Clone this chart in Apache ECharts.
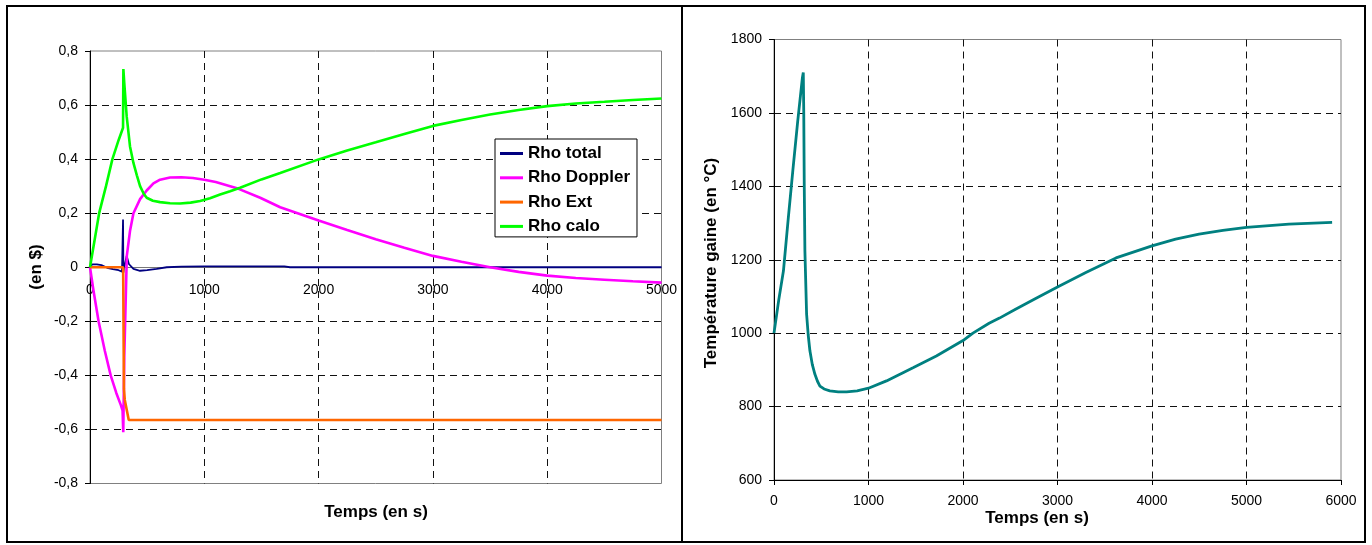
<!DOCTYPE html>
<html><head><meta charset="utf-8">
<script src="https://cdn.jsdelivr.net/npm/echarts@6/dist/echarts.min.js"></script>
<style>html,body{margin:0;padding:0;background:#fff}#c{width:1372px;height:545px}</style>
</head><body><div id="c"></div>
<script>
// ---- Left chart: reactivity (en $) vs time (s)
const seriesNames = ['Rho total', 'Rho Doppler', 'Rho Ext', 'Rho calo'];

const rhoTotalT = [0, 20, 60, 100, 150, 200, 250, 280, 289, 292, 296, 305, 321, 340, 380, 438, 500, 583, 671, 800, 1000, 1700, 1750, 5000];
const rhoTotalV = [0, 0.011, 0.011, 0.008, -0.002, -0.007, -0.011, -0.016, 0.177, -0.02, -0.005, 0.01, 0.042, 0.012, -0.006, -0.013, -0.011, -0.006, 0.0, 0.002, 0.003, 0.003, 0.0, 0.0];

const rhoDopplerT = [0, 30, 75, 130, 181, 230, 270, 285, 291, 300, 322, 350, 380, 438, 496, 555, 613, 700, 800, 900, 1000, 1100, 1226, 1300, 1489, 1664, 2000, 2250, 2500, 2750, 3000, 3250, 3500, 3750, 4000, 4250, 4500, 4750, 5000];
const rhoDopplerV = [0, -0.085, -0.2, -0.31, -0.4, -0.465, -0.51, -0.53, -0.61, -0.33, 0.042, 0.134, 0.2, 0.252, 0.284, 0.31, 0.324, 0.332, 0.333, 0.33, 0.324, 0.315, 0.3, 0.29, 0.257, 0.222, 0.173, 0.138, 0.104, 0.072, 0.042, 0.02, 0.0, -0.017, -0.031, -0.04, -0.046, -0.052, -0.057];

const rhoExtT = [0, 290, 297, 304, 339, 5000];
const rhoExtV = [0, 0, -0.45, -0.49, -0.565, -0.565];

const rhoCaloT = [0, 40, 80, 140, 196, 250, 289, 292, 300, 321, 350, 380, 410, 438, 470, 496, 550, 613, 700, 788, 880, 963, 1050, 1138, 1226, 1313, 1500, 1664, 2000, 2250, 2500, 2750, 3000, 3250, 3500, 3750, 4000, 4250, 4500, 4750, 5000];
const rhoCaloV = [0, 0.1, 0.2, 0.3, 0.4, 0.47, 0.516, 0.733, 0.68, 0.558, 0.447, 0.386, 0.34, 0.3, 0.272, 0.257, 0.246, 0.241, 0.237, 0.236, 0.239, 0.245, 0.255, 0.269, 0.281, 0.294, 0.325, 0.349, 0.399, 0.432, 0.462, 0.493, 0.523, 0.545, 0.565, 0.582, 0.596, 0.606, 0.612, 0.619, 0.624];

const leftYTicks = [-0.8, -0.6, -0.4, -0.2, 0, 0.2, 0.4, 0.6, 0.8];
const leftXTicks = [0, 1000, 2000, 3000, 4000, 5000];

// ---- Right chart: cladding temperature (°C) vs time (s)
const tempT = [0, 50, 100, 150, 200, 250, 300, 310, 315, 320, 327, 345, 362, 380, 405, 433, 460, 486, 530, 591, 680, 768, 880, 1000, 1190, 1471, 1718, 2000, 2105, 2276, 2386, 2556, 2774, 3000, 3300, 3619, 4000, 4250, 4498, 4750, 5000, 5449, 5906];
const tempV = [1000, 1090, 1170, 1310, 1445, 1575, 1695, 1710, 1600, 1406, 1224, 1052, 995, 952, 915, 888, 869, 856, 848, 843, 840, 840, 843, 850, 870, 906, 938, 980, 1000, 1027, 1041, 1065, 1095, 1126, 1165, 1205, 1238, 1256, 1270, 1280, 1288, 1297, 1302];

const rightYTicks = [600, 800, 1000, 1200, 1400, 1600, 1800];
const rightXTicks = [0, 1000, 2000, 3000, 4000, 5000, 6000];

const colors = { total: '#000080', doppler: '#ff00ff', ext: '#ff6600', calo: '#00ff00', temp: '#008080' };
const FONT = "'Liberation Sans', Arial, sans-serif";

function pairs(t, v) { return t.map((x, i) => [x, v[i]]); }
function step(a) { return a[1] - a[0]; }
const plain = v => String(Math.round(v));

// layout of the left plot area (px)
const L = { left: 90, top: 51, width: 571.5, height: 432.5 };
const yMinL = leftYTicks[0], yMaxL = leftYTicks[leftYTicks.length - 1];
// x axis crosses the y axis at value 0: shift it up from the bottom edge
const xAxisShiftL = -L.height * (0 - yMinL) / (yMaxL - yMinL);

const splitStyle = { show: true, showMinLine: false, showMaxLine: false, lineStyle: { color: '#111', width: 1, type: [7, 5] } };
const labelBase = { color: '#000', fontFamily: FONT, fontSize: 14 };

const chart = echarts.init(document.getElementById('c'), null, { renderer: 'canvas' });
chart.setOption({
  animation: false,
  backgroundColor: '#fff',
  grid: [
    { left: L.left, top: L.top, width: L.width, height: L.height, show: true, borderColor: '#808080', borderWidth: 1, backgroundColor: 'transparent' },
    { left: 774, top: 39.5, width: 567, height: 440.5, show: true, borderColor: '#808080', borderWidth: 1, backgroundColor: 'transparent' }
  ],
  xAxis: [
    { gridIndex: 0, type: 'value', position: 'bottom', offset: xAxisShiftL,
      min: leftXTicks[0], max: leftXTicks[leftXTicks.length - 1], interval: step(leftXTicks),
      axisLine: { show: true, onZero: false, lineStyle: { color: '#777', width: 1 } }, axisTick: { show: false },
      axisLabel: Object.assign({ margin: 16, showMinLabel: true, showMaxLabel: true, formatter: plain }, labelBase),
      splitLine: splitStyle },
    { gridIndex: 1, type: 'value', min: rightXTicks[0], max: rightXTicks[rightXTicks.length - 1], interval: step(rightXTicks),
      axisLine: { show: true, onZero: false, lineStyle: { color: '#000', width: 1 } },
      axisTick: { show: true, inside: false, length: 5, lineStyle: { color: '#000' } },
      axisLabel: Object.assign({ margin: 14, showMinLabel: true, showMaxLabel: true, formatter: plain }, labelBase),
      splitLine: splitStyle }
  ],
  yAxis: [
    { gridIndex: 0, type: 'value', min: yMinL, max: yMaxL, interval: step(leftYTicks),
      axisLine: { show: true, onZero: false, lineStyle: { color: '#000', width: 1 } },
      axisTick: { show: true, inside: false, length: 5, lineStyle: { color: '#000' } },
      axisLabel: Object.assign({ margin: 12, formatter: v => Math.abs(v) < 1e-9 ? '0' : v.toFixed(1).replace('.', ',') }, labelBase),
      splitLine: splitStyle },
    { gridIndex: 1, type: 'value', min: rightYTicks[0], max: rightYTicks[rightYTicks.length - 1], interval: step(rightYTicks),
      axisLine: { show: true, onZero: false, lineStyle: { color: '#000', width: 1 } },
      axisTick: { show: true, inside: false, length: 5, lineStyle: { color: '#000' } },
      axisLabel: Object.assign({ margin: 12, formatter: plain }, labelBase),
      splitLine: splitStyle }
  ],
  legend: {
    data: seriesNames,
    orient: 'vertical', left: 495, top: 139,
    padding: [4.5, 7, 0.5, 5],
    itemGap: 4.3, itemWidth: 23, itemHeight: 3, icon: 'rect',
    backgroundColor: '#fff', borderColor: '#000', borderWidth: 1, borderRadius: 0,
    textStyle: { color: '#000', fontFamily: FONT, fontSize: 17, fontWeight: 'bold', lineHeight: 20 }
  },
  series: [
    { name: seriesNames[0], type: 'line', xAxisIndex: 0, yAxisIndex: 0, data: pairs(rhoTotalT, rhoTotalV), showSymbol: false, lineStyle: { color: colors.total, width: 1.8 }, itemStyle: { color: colors.total }, z: 3 },
    { name: seriesNames[1], type: 'line', xAxisIndex: 0, yAxisIndex: 0, data: pairs(rhoDopplerT, rhoDopplerV), showSymbol: false, lineStyle: { color: colors.doppler, width: 2.6 }, itemStyle: { color: colors.doppler }, z: 4 },
    { name: seriesNames[2], type: 'line', xAxisIndex: 0, yAxisIndex: 0, data: pairs(rhoExtT, rhoExtV), showSymbol: false, lineStyle: { color: colors.ext, width: 2.6 }, itemStyle: { color: colors.ext }, z: 5 },
    { name: seriesNames[3], type: 'line', xAxisIndex: 0, yAxisIndex: 0, data: pairs(rhoCaloT, rhoCaloV), showSymbol: false, lineStyle: { color: colors.calo, width: 2.6 }, itemStyle: { color: colors.calo }, z: 6 },
    { name: 'Température gaine', type: 'line', xAxisIndex: 1, yAxisIndex: 1, data: pairs(tempT, tempV), showSymbol: false, lineStyle: { color: colors.temp, width: 2.8 }, itemStyle: { color: colors.temp }, z: 4 }
  ],
  graphic: [
    { type: 'rect', shape: { x: 7, y: 6, width: 1358, height: 536 }, style: { fill: 'none', stroke: '#000', lineWidth: 2 }, z: 100, silent: true },
    { type: 'line', shape: { x1: 682, y1: 6, x2: 682, y2: 542 }, style: { stroke: '#000', lineWidth: 2 }, z: 100, silent: true },
    { type: 'text', x: 36.5, y: 267, rotation: Math.PI / 2, style: { text: '(en $)', font: 'bold 17px ' + FONT, fill: '#000', align: 'center', verticalAlign: 'middle' } },
    { type: 'text', x: 376, y: 512, style: { text: 'Temps (en s)', font: 'bold 17px ' + FONT, fill: '#000', align: 'center', verticalAlign: 'middle' } },
    { type: 'text', x: 711, y: 263, rotation: Math.PI / 2, style: { text: 'Température gaine (en °C)', font: 'bold 17px ' + FONT, fill: '#000', align: 'center', verticalAlign: 'middle' } },
    { type: 'text', x: 1037, y: 518, style: { text: 'Temps (en s)', font: 'bold 17px ' + FONT, fill: '#000', align: 'center', verticalAlign: 'middle' } }
  ]
});
</script>
</body></html>
